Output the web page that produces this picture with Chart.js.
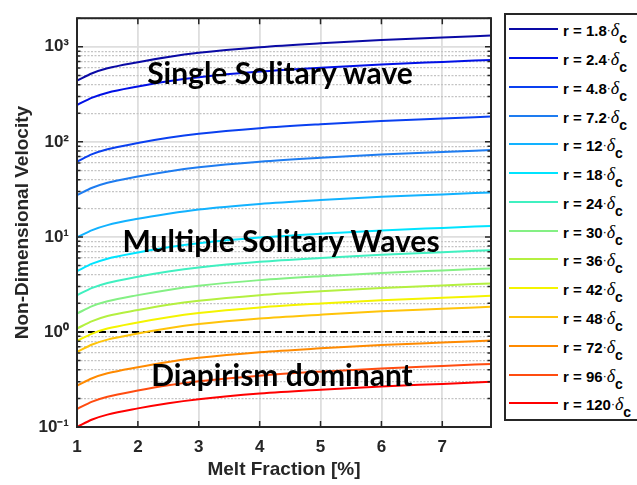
<!DOCTYPE html>
<html>
<head>
<meta charset="utf-8">
<script src="https://cdn.jsdelivr.net/npm/chart.js@4.4.1/dist/chart.umd.min.js"></script>
<style>
  html, body { margin: 0; padding: 0; background: #fff; }
  #wrap { position: relative; width: 637px; height: 485px; overflow: hidden; }
  #chart { position: absolute; left: 0; top: 0; }
  .note { position: absolute; font: bold 30px Lato, sans-serif; line-height: 30px; white-space: nowrap;
          transform: translateX(-50%); color: #000; }
  #legend { position: absolute; left: 504px; top: 13px; width: 160px; height: 408px; box-sizing: border-box;
            border: 2px solid #262626; background: #fff; }
  .sw { position: absolute; left: 3px; width: 49px; height: 2px; }
  .lab { position: absolute; left: 57px; height: 18px; line-height: 18px; white-space: nowrap;
         font: bold 15px "Liberation Sans", Arial, sans-serif; color: #000; }
  .lab .d { font: italic 18px "Liberation Serif", serif; }
  .lab .dot { font-weight: normal; font-size: 12px; position: relative; top: -2px; }
  .lab sub { font-size: 14px; vertical-align: baseline; position: relative; top: 7px; }
</style>
</head>
<body>
<div id="wrap">
  <canvas id="chart" width="637" height="485"></canvas>
  <div class="note" style="left:280px; top:57px;">Single Solitary wave</div>
  <div class="note" style="left:281px; top:225px;">Multiple Solitary Waves</div>
  <div class="note" style="left:282px; top:359px;">Diapirism dominant</div>
  <div id="legend"></div>
</div>
<script>
// melt fraction [%] where the curves were read
const meltFraction = [1, 1.25, 1.5, 2, 2.5, 3, 4, 5, 6, 7, 7.8];

// non-dimensional velocity, one array per radius r (in units of delta_c)
const v_r1_8 = [440, 527, 594, 689, 782, 864, 990, 1088, 1176, 1251, 1313];
const v_r2_4 = [244, 292, 329, 382, 434, 479, 549, 603, 652, 694, 728];
const v_r4_8 = [62, 74.2, 83.6, 97.2, 110.2, 121.7, 139.4, 153.3, 165.7, 176.3, 185];
const v_r7_2 = [27.5, 32.9, 37.1, 43.1, 48.9, 54.0, 61.8, 68.0, 73.5, 78.2, 82.1];
const v_r12 = [9.86, 11.8, 13.3, 15.5, 17.5, 19.4, 22.2, 24.4, 26.4, 28.0, 29.4];
const v_r18 = [4.37, 5.23, 5.90, 6.85, 7.77, 8.58, 9.83, 10.80, 11.68, 12.43, 13.04];
const v_r24 = [2.43, 2.91, 3.28, 3.81, 4.32, 4.77, 5.47, 6.01, 6.50, 6.91, 7.25];
const v_r30 = [1.56, 1.87, 2.10, 2.44, 2.77, 3.06, 3.51, 3.86, 4.17, 4.44, 4.66];
const v_r36 = [1.086, 1.30, 1.47, 1.70, 1.93, 2.13, 2.44, 2.68, 2.90, 3.09, 3.24];
const v_r42 = [0.804, 0.962, 1.085, 1.26, 1.43, 1.58, 1.81, 1.99, 2.15, 2.29, 2.40];
const v_r48 = [0.616, 0.737, 0.831, 0.965, 1.095, 1.21, 1.385, 1.52, 1.65, 1.75, 1.84];
const v_r72 = [0.272, 0.326, 0.367, 0.426, 0.484, 0.534, 0.612, 0.672, 0.727, 0.774, 0.812];
const v_r96 = [0.1545, 0.185, 0.208, 0.242, 0.275, 0.303, 0.347, 0.382, 0.413, 0.439, 0.461];
const v_r120 = [0.100, 0.120, 0.135, 0.157, 0.178, 0.196, 0.225, 0.247, 0.267, 0.284, 0.299];

const radii = ['1.8', '2.4', '4.8', '7.2', '12', '18', '24', '30', '36', '42', '48', '72', '96', '120'];
const series = [v_r1_8, v_r2_4, v_r4_8, v_r7_2, v_r12, v_r18, v_r24, v_r30, v_r36, v_r42, v_r48, v_r72, v_r96, v_r120];
const lineColors = ['#0a0aa5', '#0010e6', '#0a40f0', '#1e7cf0', '#12b2ff', '#00e4ff', '#40f0c0', '#84f084',
                    '#b4f040', '#f4f400', '#ffc40a', '#ff8a00', '#ff4c10', '#ff0000'];

// threshold V = 1 (dashed)
const thresholdX = [1, 7.8];
const thresholdV = [1, 1];

// axis ticks
const xTicks = [1, 2, 3, 4, 5, 6, 7];
const yMajor = [0.1, 1, 10, 100, 1000];
const yMajorLabels = ['10\u207B\u00B9', '10\u2070', '10\u00B9', '10\u00B2', '10\u00B3'];

const isMajor = v => yMajor.some(m => Math.abs(v / m - 1) < 1e-6);

const datasets = series.map((s, i) => ({
    label: 'r = ' + radii[i],
    data: meltFraction.map((x, j) => ({x: x, y: s[j]})),
    borderColor: lineColors[i],
    borderWidth: 2,
    pointRadius: 0,
    showLine: true,
    cubicInterpolationMode: 'monotone'
}));
datasets.push({
    label: 'threshold',
    data: thresholdX.map((x, j) => ({x: x, y: thresholdV[j]})),
    borderColor: '#000',
    borderWidth: 2,
    borderDash: [7, 4],
    pointRadius: 0,
    showLine: true
});

// box with inward ticks, like matlab
const framePlugin = {
    id: 'frame',
    afterDraw(chart) {
        const {ctx, chartArea: a, scales} = chart;
        ctx.save();
        ctx.strokeStyle = '#262626';
        ctx.lineWidth = 1.5;
        ctx.beginPath();
        scales.x.ticks.forEach(t => {
            const px = scales.x.getPixelForValue(t.value);
            ctx.moveTo(px, a.bottom); ctx.lineTo(px, a.bottom - 6);
            ctx.moveTo(px, a.top); ctx.lineTo(px, a.top + 6);
        });
        scales.y.ticks.forEach(t => {
            const py = scales.y.getPixelForValue(t.value);
            const len = isMajor(t.value) ? 6 : 3.5;
            ctx.moveTo(a.left, py); ctx.lineTo(a.left + len, py);
            ctx.moveTo(a.right, py); ctx.lineTo(a.right - len, py);
        });
        ctx.stroke();
        ctx.lineWidth = 2;
        ctx.strokeRect(a.left, a.top, a.right - a.left, a.bottom - a.top);
        ctx.restore();
    }
};

new Chart(document.getElementById('chart'), {
    type: 'scatter',
    data: {datasets: datasets},
    options: {
        responsive: false,
        animation: false,
        devicePixelRatio: 1,
        layout: {padding: {top: 7, right: 146, left: 0, bottom: 0}},
        plugins: {legend: {display: false}, tooltip: {enabled: false}},
        scales: {
            x: {
                type: 'linear',
                min: 1,
                max: 7.8,
                afterBuildTicks: scale => { scale.ticks = xTicks.map(v => ({value: v})); },
                afterFit: scale => { scale.height = 58; },
                grid: {color: '#dedede', lineWidth: 1.8, drawTicks: false},
                border: {display: false},
                ticks: {
                    padding: 10,
                    color: '#262626',
                    font: {family: '"Liberation Sans", Arial', size: 17, weight: 'bold'}
                },
                title: {
                    display: true,
                    text: 'Melt Fraction [%]',
                    color: '#262626',
                    padding: {top: 0, bottom: 4},
                    font: {family: '"Liberation Sans", Arial', size: 19, weight: 'bold'}
                }
            },
            y: {
                type: 'logarithmic',
                min: 0.1,
                max: 2000,
                afterBuildTicks: scale => {
                    const t = [];
                    yMajor.forEach(m => {
                        for (let k = 1; k <= 9; k++) {
                            const v = m * k;
                            if (v <= 2000) t.push({value: v});
                        }
                    });
                    scale.ticks = t;
                },
                afterFit: scale => { scale.width = 77; },
                grid: {
                    drawTicks: false,
                    color: c => (c.tick && isMajor(c.tick.value)) ? '#dedede' : '#c4c4c4',
                    lineWidth: c => (c.tick && isMajor(c.tick.value)) ? 1.8 : 1.2
                },
                border: {
                    display: false,
                    dash: c => (c.tick && !isMajor(c.tick.value)) ? [2, 1.5] : []
                },
                ticks: {
                    autoSkip: false,
                    padding: 8,
                    color: '#262626',
                    font: {family: '"Liberation Sans", Arial', size: 17, weight: 'bold'},
                    callback: v => {
                        const i = yMajor.findIndex(m => Math.abs(v / m - 1) < 1e-6);
                        return i >= 0 ? yMajorLabels[i] : '';
                    }
                },
                title: {
                    display: true,
                    text: 'Non-Dimensional Velocity',
                    color: '#262626',
                    padding: {top: 11, bottom: 0},
                    font: {family: '"Liberation Sans", Arial', size: 19, weight: 'bold'}
                }
            }
        }
    },
    plugins: [framePlugin]
});

// legend built from the same arrays
const legend = document.getElementById('legend');
radii.forEach((r, i) => {
    const c = 14.3 + i * 28.77;
    const sw = document.createElement('div');
    sw.className = 'sw';
    sw.style.top = (c - 1) + 'px';
    sw.style.background = lineColors[i];
    legend.appendChild(sw);
    const lab = document.createElement('div');
    lab.className = 'lab';
    lab.style.top = (c - 9) + 'px';
    lab.innerHTML = 'r = ' + r + '<span class="dot">\u00B7</span><span class="d">\u03B4</span><sub>c</sub>';
    legend.appendChild(lab);
});
</script>
</body>
</html>
